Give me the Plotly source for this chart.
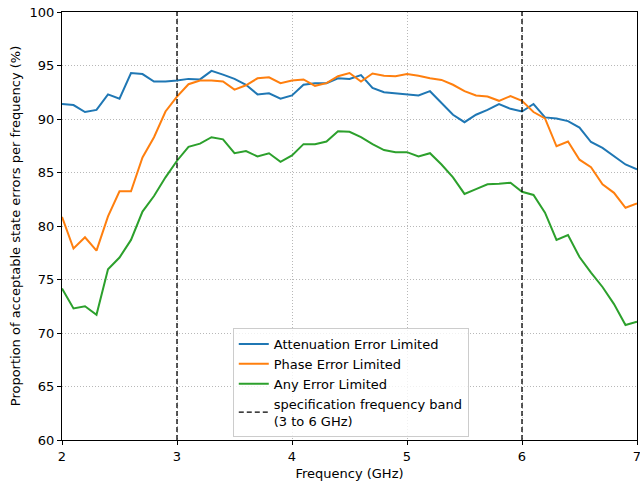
import plotly.graph_objects as go

# Frequency grid (GHz)
freq = [round(2.0 + 0.1 * i, 1) for i in range(51)]

attenuation = [91.4, 91.3, 90.65, 90.85, 92.3, 91.9, 94.3, 94.2, 93.5, 93.5,
               93.6, 93.75, 93.7, 94.5, 94.15, 93.75, 93.2, 92.3, 92.4, 91.9,
               92.2, 93.2, 93.35, 93.35, 93.8, 93.75, 94.1, 92.9, 92.5, 92.4,
               92.25, 92.2, 92.6, 91.5, 90.4, 89.7, 90.4, 90.85, 91.4, 90.95,
               90.7, 91.4, 90.15, 90.05, 89.8, 89.2, 87.85, 87.3, 86.5, 85.75,
               85.3]

phase = [80.85, 77.9, 78.95, 77.7, 80.9, 83.25, 83.25, 86.4, 88.3, 90.7,
         92.1, 93.25, 93.6, 93.6, 93.5, 92.75, 93.15, 93.8, 93.9, 93.35,
         93.6, 93.7, 93.1, 93.35, 94.0, 94.3, 93.5, 94.25, 94.05, 94.0,
         94.2, 94.05, 93.8, 93.65, 93.2, 92.6, 92.2, 92.1, 91.7, 92.15,
         91.7, 90.65, 90.05, 87.45, 87.9, 86.2, 85.5, 83.9, 83.1, 81.7,
         82.1]

any_error = [74.15, 72.3, 72.5, 71.7, 75.95, 77.05, 78.7, 81.35, 82.8, 84.55,
             86.1, 87.4, 87.7, 88.3, 88.1, 86.8, 87.0, 86.5, 86.8, 86.0,
             86.6, 87.65, 87.65, 87.9, 88.85, 88.8, 88.3, 87.65, 87.1, 86.9,
             86.9, 86.5, 86.8, 85.75, 84.55, 83.0, 83.45, 83.9, 83.95, 84.05,
             83.2, 82.9, 81.25, 78.7, 79.15, 77.1, 75.65, 74.3, 72.7, 70.75,
             71.05]

band = [3, 6]          # specification frequency band (GHz)
y_range = [60, 100]
x_range = [2, 7]
y_ticks = [60, 65, 70, 75, 80, 85, 90, 95, 100]
x_ticks = [2, 3, 4, 5, 6, 7]

FONT = "DejaVu Sans, sans-serif"

fig = go.Figure()

series = [
    ("Attenuation Error Limited", attenuation, "#1f77b4"),
    ("Phase Error Limited", phase, "#ff7f0e"),
    ("Any Error Limited", any_error, "#2ca02c"),
]
for name, vals, color in series:
    fig.add_trace(go.Scatter(
        x=freq, y=vals, mode="lines", name=name,
        line=dict(color=color, width=2),
    ))

# Vertical dashed lines marking the band edges
bx, by = [], []
for f in band:
    bx += [f, f, None]
    by += [y_range[0], y_range[1], None]
fig.add_trace(go.Scatter(
    x=bx, y=by, mode="lines",
    name="specification frequency band<br>(3 to 6 GHz)",
    line=dict(color="black", width=1.3, dash="5px,3px"),
))

axis_common = dict(
    showline=True, linecolor="black", linewidth=1, mirror=True,
    ticks="outside", ticklen=4, tickcolor="black", tickwidth=1,
    showgrid=True, gridcolor="#b8b8b8", gridwidth=0.8, griddash="1px,2px",
    zeroline=False, tickfont=dict(family=FONT, size=13, color="black"),
    ticklabeloverflow="allow", automargin=False,
)

fig.update_xaxes(
    range=x_range, tickvals=x_ticks,
    title=dict(text="Frequency (GHz)", font=dict(family=FONT, size=13, color="black"), standoff=6),
    **axis_common,
)
fig.update_yaxes(
    range=y_range, tickvals=y_ticks,
    title=dict(text="Proportion of acceptable state errors per frequency (%)",
               font=dict(family=FONT, size=13, color="black"), standoff=6),
    **axis_common,
)

fig.update_layout(
    width=640, height=486,
    margin=dict(l=62, r=3, t=12, b=46),
    plot_bgcolor="white", paper_bgcolor="white",
    font=dict(family=FONT, size=13, color="black"),
    legend=dict(
        x=0.297, y=0.007, xanchor="left", yanchor="bottom",
        bgcolor="rgba(255,255,255,0.8)", bordercolor="#cccccc", borderwidth=1,
        font=dict(family=FONT, size=13, color="black"),
        itemwidth=30, tracegroupgap=0,
    ),
)

fig.write_html("out.html")
